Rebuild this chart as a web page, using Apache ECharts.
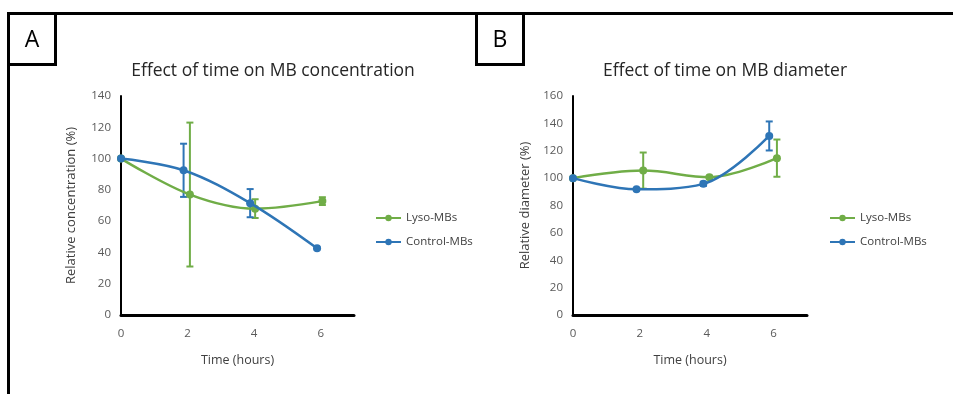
<!DOCTYPE html>
<html>
<head>
<meta charset="utf-8">
<script src="https://cdn.jsdelivr.net/npm/echarts@6/dist/echarts.min.js"></script>
<style>
html,body{margin:0;padding:0;background:#fff;}
#chart{width:953px;height:394px;}
</style>
</head>
<body>
<div id="chart"></div>
<script>
// Panel A: relative concentration (%)
const lysoA_x = [0, 2.07, 4.03, 6.05];
const lysoA_y = [100, 77, 68, 72.8];
const lysoA_err = [0, 46, 6, 2.5];
const ctrlA_x = [0, 1.88, 3.88, 5.89];
const ctrlA_y = [100, 92.5, 71.5, 42.6];
const ctrlA_err = [0, 17, 9, 0.6];

// Panel B: relative diameter (%)
const lysoB_x = [0, 2.1, 4.08, 6.1];
const lysoB_y = [100, 105.5, 100.7, 114.6];
const lysoB_err = [0, 13.2, 1, 13.6];
const ctrlB_x = [0, 1.9, 3.9, 5.87];
const ctrlB_y = [100, 91.8, 95.8, 130.8];
const ctrlB_err = [0, 0.8, 1.5, 10.6];

const xTicks = [0, 2, 4, 6];
const titles = ['Effect of time on MB concentration', 'Effect of time on MB diameter'];
const yNames = ['Relative concentration (%)', 'Relative diameter (%)'];
const seriesNames = ['Lyso-MBs', 'Control-MBs'];

const GREEN = '#70AD47';
const BLUE = '#2E75B6';
const FONT = '"Open Sans", "Noto Sans", sans-serif';

function pts(xs, ys) { return xs.map((x, i) => [x, ys[i]]); }
function errs(xs, ys, es) { return xs.map((x, i) => [x, ys[i] - es[i], ys[i] + es[i]]); }

function errorSeries(idx, data, color) {
  return {
    type: 'custom',
    xAxisIndex: idx, yAxisIndex: idx,
    data: data,
    z: 3,
    silent: true,
    renderItem: function (params, api) {
      const x = api.value(0);
      const lo = api.coord([x, api.value(1)]);
      const hi = api.coord([x, api.value(2)]);
      if (Math.abs(hi[1] - lo[1]) < 1) return null;
      const w = 3.5;
      const st = { stroke: color, lineWidth: 2 };
      return {
        type: 'group',
        children: [
          { type: 'line', shape: { x1: lo[0], y1: lo[1], x2: hi[0], y2: hi[1] }, style: st },
          { type: 'line', shape: { x1: lo[0] - w, y1: lo[1], x2: lo[0] + w, y2: lo[1] }, style: st },
          { type: 'line', shape: { x1: hi[0] - w, y1: hi[1], x2: hi[0] + w, y2: hi[1] }, style: st }
        ]
      };
    }
  };
}

function lineSeries(idx, name, data, color, z) {
  return {
    type: 'line', name: name,
    xAxisIndex: idx, yAxisIndex: idx,
    data: data, smooth: 0.35,
    symbol: 'circle', symbolSize: 8,
    lineStyle: { color: color, width: 2.5 },
    itemStyle: { color: color },
    z: z
  };
}

function xAxisCfg(idx) {
  return {
    gridIndex: idx, type: 'value', min: 0, max: 7, interval: 2,
    name: 'Time (hours)', nameLocation: 'middle', nameGap: 39,
    nameTextStyle: { fontFamily: FONT, fontSize: 12.5, color: '#404040' },
    axisLine: { show: true, onZero: false, lineStyle: { color: '#000', width: 3 } },
    axisTick: { show: false },
    splitLine: { show: false },
    axisLabel: {
      fontFamily: FONT, fontSize: 11.5, color: '#595959', margin: 13,
      showMaxLabel: false,
      formatter: v => (xTicks.indexOf(v) >= 0 ? String(v) : '')
    }
  };
}

function yAxisCfg(idx, max, gap) {
  return {
    gridIndex: idx, type: 'value', min: 0, max: max, interval: 20,
    name: yNames[idx], nameLocation: 'middle', nameGap: gap,
    nameTextStyle: { fontFamily: FONT, fontSize: 13, color: '#404040' },
    axisLine: { show: true, lineStyle: { color: '#000', width: 2 } },
    axisTick: { show: false },
    splitLine: { show: false },
    axisLabel: { fontFamily: FONT, fontSize: 11.5, color: '#595959', margin: 10 }
  };
}

const chart = echarts.init(document.getElementById('chart'), null, { renderer: 'canvas' });

const legendBase = {
  orient: 'vertical', top: 212, itemWidth: 25, itemHeight: 8, itemGap: 12, padding: 0,
  data: seriesNames, textStyle: { fontFamily: FONT, fontSize: 11.5, color: '#404040' }
};

chart.setOption({
  animation: false,
  backgroundColor: '#fff',
  title: [
    { text: titles[0], left: 268, top: 57, textAlign: 'center',
      textStyle: { fontFamily: FONT, fontSize: 17.5, fontWeight: 'normal', color: '#262626' } },
    { text: titles[1], left: 720, top: 57, textAlign: 'center',
      textStyle: { fontFamily: FONT, fontSize: 17.5, fontWeight: 'normal', color: '#262626' } }
  ],
  grid: [
    { left: 121, top: 96, width: 233, height: 219 },
    { left: 573, top: 96, width: 234, height: 219 }
  ],
  xAxis: [xAxisCfg(0), xAxisCfg(1)],
  yAxis: [yAxisCfg(0, 140, 43), yAxisCfg(1, 160, 41)],
  legend: [
    Object.assign({}, legendBase, { left: 375 }),
    Object.assign({}, legendBase, { left: 829 })
  ],
  series: [
    lineSeries(0, seriesNames[0], pts(lysoA_x, lysoA_y), GREEN, 4),
    errorSeries(0, errs(lysoA_x, lysoA_y, lysoA_err), GREEN),
    lineSeries(0, seriesNames[1], pts(ctrlA_x, ctrlA_y), BLUE, 5),
    errorSeries(0, errs(ctrlA_x, ctrlA_y, ctrlA_err), BLUE),
    lineSeries(1, seriesNames[0], pts(lysoB_x, lysoB_y), GREEN, 4),
    errorSeries(1, errs(lysoB_x, lysoB_y, lysoB_err), GREEN),
    lineSeries(1, seriesNames[1], pts(ctrlB_x, ctrlB_y), BLUE, 5),
    errorSeries(1, errs(ctrlB_x, ctrlB_y, ctrlB_err), BLUE)
  ],
  graphic: [
    { type: 'polyline', shape: { points: [[8.5, 394], [8.5, 13.5], [953, 13.5]] },
      style: { stroke: '#000', lineWidth: 3, fill: null } },
    { type: 'rect', shape: { x: 8.5, y: 13.5, width: 47, height: 51 },
      style: { stroke: '#000', lineWidth: 3, fill: null } },
    { type: 'rect', shape: { x: 476.5, y: 13.5, width: 47, height: 51 },
      style: { stroke: '#000', lineWidth: 3, fill: null } },
    { type: 'text', x: 32, y: 40, style: { text: 'A', fontFamily: FONT, fontSize: 23, fill: '#000',
      textAlign: 'center', textVerticalAlign: 'middle' } },
    { type: 'text', x: 500, y: 40, style: { text: 'B', fontFamily: FONT, fontSize: 23, fill: '#000',
      textAlign: 'center', textVerticalAlign: 'middle' } }
  ]
});
</script>
</body>
</html>
